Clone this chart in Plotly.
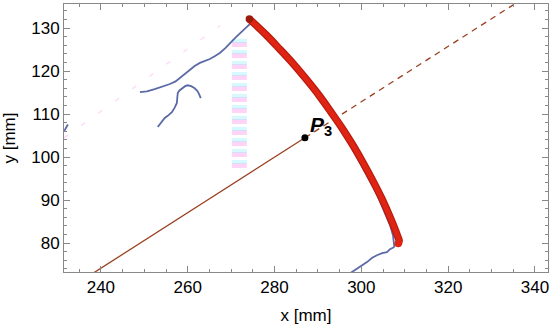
import plotly.graph_objects as go

# Fitted arc (red)
arc_x = [274.2, 278.1, 281.3, 284.4, 287.4, 290.3, 293.0, 295.6, 298.1, 300.4, 302.6, 304.7, 306.6, 308.3, 308.7, 308.5]
arc_y = [132.1, 128.4, 125.0, 121.6, 118.0, 114.3, 110.5, 106.7, 102.7, 98.7, 94.6, 90.4, 86.1, 81.8, 80.6, 79.9]

# Measured contour (blue), several fragments
blue1_x = [231.5, 232.0, 232.4]
blue1_y = [106.0, 106.8, 107.6]
blue2_x = [249.0, 250.6, 252.4, 254.2, 255.9, 257.2, 258.2, 259.4, 260.5, 261.6, 262.8, 264.0, 265.1, 266.3, 267.4, 268.6, 269.7, 271.0, 272.4, 273.6, 274.8]
blue2_y = [115.1, 115.3, 115.8, 116.4, 117.0, 117.6, 118.4, 119.3, 120.2, 121.2, 121.9, 122.3, 122.8, 123.5, 124.2, 125.3, 126.5, 127.8, 129.1, 130.3, 131.4]
blue3_x = [253.1, 253.9, 254.7, 255.4, 256.4, 257.0, 257.5, 257.6, 257.7, 258.1, 258.7, 259.4, 260.0, 260.8, 261.6, 262.2, 262.6, 263.0]
blue3_y = [107.0, 108.0, 109.1, 109.6, 110.5, 111.5, 112.6, 113.8, 114.9, 115.5, 116.0, 116.5, 116.7, 116.5, 116.0, 115.4, 114.7, 113.7]
blue4_x = [297.5, 298.7, 299.6, 300.9, 302.0, 303.0, 304.0, 305.0, 305.8, 306.7, 307.3, 307.6]
blue4_y = [102.7, 100.5, 98.7, 96.3, 94.6, 92.5, 90.4, 88.2, 86.1, 83.9, 81.8, 79.1]
blue5_x = [307.6, 306.6, 305.9, 304.8, 303.6, 302.5, 301.3, 300.5, 299.7, 298.6, 297.4]
blue5_y = [79.1, 78.6, 77.9, 77.7, 77.2, 76.6, 75.6, 75.1, 74.4, 73.8, 73.0]

# Ray through P3
ray_solid_x = [236.0, 287.0]
ray_solid_y = [71.6, 104.5]
ray_dash_x = [287.0, 337.0]
ray_dash_y = [104.5, 136.7]
p3_x = [287.0]
p3_y = [104.5]
p3_label = "<b><i>P</i><sub>3</sub></b>"

x_range = [231.5, 343.0]
y_range = [73.3, 135.6]
x_ticks = [240, 260, 280, 300, 320, 340]
y_ticks = [80, 90, 100, 110, 120, 130]

# faint artifact traces
art_col_x = [271.9, 271.9]
art_col_y = [97.5, 127.5]
art_diag_x = [231.5, 267.5]
art_diag_y = [104.5, 130.6]

fig = go.Figure()

fig.add_trace(go.Scatter(x=art_col_x, y=art_col_y, mode="lines",
                         line=dict(color="rgba(255,170,240,0.5)", width=15, dash="5px,6px"),
                         hoverinfo="skip"))
fig.add_trace(go.Scatter(x=art_col_x, y=[a + 0.9 for a in art_col_y], mode="lines",
                         line=dict(color="rgba(150,240,250,0.4)", width=15, dash="4px,7px"),
                         hoverinfo="skip"))
fig.add_trace(go.Scatter(x=art_diag_x, y=art_diag_y, mode="lines",
                         line=dict(color="rgba(255,175,240,0.45)", width=1.5, dash="5px,16px"),
                         hoverinfo="skip"))

for bx, by in [(blue1_x, blue1_y), (blue2_x, blue2_y), (blue3_x, blue3_y), (blue4_x, blue4_y), (blue5_x, blue5_y)]:
    fig.add_trace(go.Scatter(x=bx, y=by, mode="lines",
                             line=dict(color="#5b6aa6", width=1.8)))

fig.add_trace(go.Scatter(x=ray_solid_x, y=ray_solid_y, mode="lines",
                         line=dict(color="#994020", width=1.3)))
fig.add_trace(go.Scatter(x=ray_dash_x, y=ray_dash_y, mode="lines",
                         line=dict(color="#994020", width=1.3, dash="6px,5px")))

fig.add_trace(go.Scatter(x=arc_x, y=arc_y, mode="lines",
                         line=dict(color="#b81c0e", width=7.5, shape="spline")))
fig.add_trace(go.Scatter(x=arc_x, y=arc_y, mode="lines",
                         line=dict(color="#e02414", width=5, shape="spline")))
fig.add_trace(go.Scatter(x=[arc_x[0], arc_x[-1]], y=[arc_y[0], arc_y[-1]], mode="markers",
                         marker=dict(color=["#9a1a0c", "#e02414"], size=7.5)))

fig.add_trace(go.Scatter(x=p3_x, y=p3_y, mode="markers",
                         marker=dict(color="black", size=7)))
fig.add_annotation(x=p3_x[0], y=p3_y[0], text=p3_label, showarrow=False,
                   xanchor="left", yanchor="bottom", xshift=3, yshift=-3,
                   font=dict(family="Liberation Sans, Arial", size=21, color="black"))

font_main = dict(family="Liberation Sans, Arial", size=17, color="black")
axis_common = dict(showgrid=False, zeroline=False, showline=True, linecolor="#888888",
                   linewidth=1, mirror="allticks", ticks="inside", ticklen=6,
                   tickcolor="#888888", tickwidth=1, automargin=False,
                   tickfont=font_main)

fig.update_xaxes(range=x_range, tickvals=x_ticks, **axis_common,
                 minor=dict(dtick=5, ticks="inside", ticklen=3, tickcolor="#888888", showgrid=False),
                 title=dict(text="x [mm]", font=font_main, standoff=12))
fig.update_yaxes(range=y_range, tickvals=y_ticks, **axis_common,
                 minor=dict(dtick=2, ticks="inside", ticklen=3, tickcolor="#888888", showgrid=False),
                 title=dict(text="y [mm]", font=font_main, standoff=12))

fig.update_layout(width=550, height=328, margin=dict(l=64, r=2, t=4, b=56),
                  plot_bgcolor="white", paper_bgcolor="white", showlegend=False,
                  hovermode=False)

fig.write_html("out.html", config={"displayModeBar": False},
               post_script="document.body.style.margin='0px';document.body.style.overflow='hidden';")
